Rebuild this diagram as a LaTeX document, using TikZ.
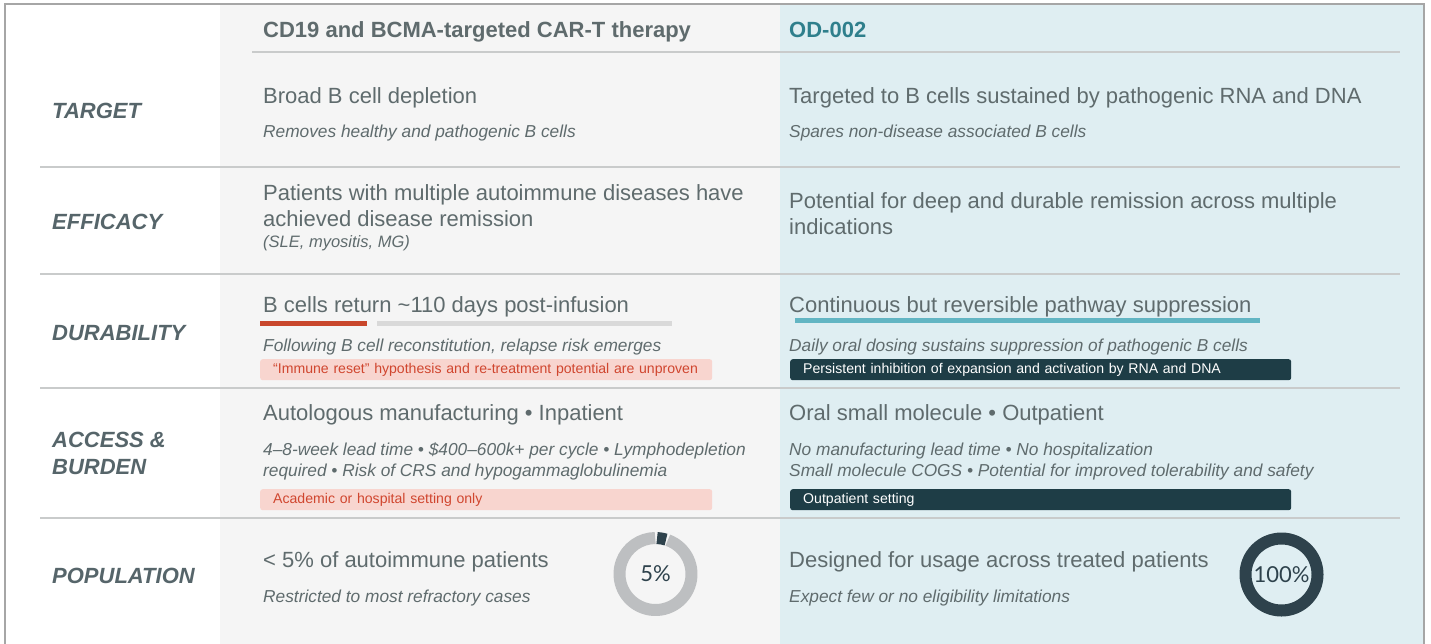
\documentclass[tikz,border=0pt]{standalone}
\usepackage{fontspec}
\setmainfont{Liberation Sans}
\newfontfamily\donutfont{Lato}
\usetikzlibrary{positioning}

\definecolor{txtgray}{HTML}{5F6B6D}
\definecolor{lblgray}{HTML}{56656A}
\definecolor{odteal}{HTML}{2F7F8C}
\definecolor{colgray}{HTML}{F5F5F5}
\definecolor{colblue}{HTML}{DFEEF2}
\definecolor{rulegray}{HTML}{C9CBCB}
\definecolor{framegray}{HTML}{A6A6A6}
\definecolor{barred}{HTML}{C9472C}
\definecolor{bargray}{HTML}{D9D9D9}
\definecolor{barteal}{HTML}{62B5C3}
\definecolor{tagred}{HTML}{F8D5CF}
\definecolor{tagredtxt}{HTML}{D0462F}
\definecolor{tagdark}{HTML}{1E3D46}
\definecolor{ringgray}{HTML}{BDBFC1}
\definecolor{ringdark}{HTML}{2E424C}

\begin{document}
\begin{tikzpicture}[x=1pt, y=-1pt]

    \tikzset{
      maintxt/.style={anchor=base west, inner sep=0pt, text=txtgray,
        font=\fontsize{22}{26}\selectfont},
      subtxt/.style={anchor=base west, inner sep=0pt, text=txtgray,
        font=\fontsize{17.3}{21}\selectfont\itshape},
      rowlbl/.style={anchor=base west, inner sep=0pt, text=lblgray,
        font=\fontsize{22}{26}\selectfont\bfseries\itshape},
      colhead/.style={anchor=base west, inner sep=0pt,
        font=\fontsize{22}{26}\selectfont\bfseries},
      redtag/.style={anchor=north west, fill=tagred, text=tagredtxt,
        rounded corners=2.5pt, inner xsep=13pt, inner ysep=0pt,
        text width=426, minimum height=21, align=left,
        font=\fontsize{14.1}{16}\selectfont},
      darktag/.style={redtag, fill=tagdark, text=white, text width=475},
      ring/.style={line width=12},
      donutlbl/.style={inner sep=0pt, text=ringdark,
        font=\donutfont\fontsize{22}{26}\selectfont},
    }
    \useasboundingbox (0,0) rectangle (1431,643);

    % columns and frame
    \fill[colgray] (220,4) rectangle (780,650);
    \fill[colblue] (780,4) rectangle (1424,650);
    \draw[framegray, line width=1.5] (5,650) |- (1424,4) -- (1424,650);

    % rules
    \draw[rulegray, line width=1.5] (252,52) -- (1400,52);
    \foreach \y in {167,274,388,518}
      \draw[rulegray, line width=1.5] (40,\y) -- (1400,\y);

    % headings
    \node[colhead, text=txtgray] (headcar) at (263,37) {CD19 and BCMA-targeted CAR-T therapy};
    \node[colhead, text=odteal] (headod) at (789,37) {OD-002};

    % target
    \node[rowlbl] (lbltarget) at (52,118) {TARGET};
    \node[maintxt] (cartarget) at (263,103) {Broad B cell depletion};
    \node[subtxt] (cartargetsub) at (263,137) {Removes healthy and pathogenic B cells};
    \node[maintxt] (odtarget) at (789,103) {Targeted to B cells sustained by pathogenic RNA and DNA};
    \node[subtxt] (odtargetsub) at (789,137) {Spares non-disease associated B cells};

    % efficacy
    \node[rowlbl] (lblefficacy) at (52,229) {EFFICACY};
    \node[maintxt] (carefficacy) at (263,200) {Patients with multiple autoimmune diseases have};
    \node[maintxt] (carefficacyb) at (263,226) {achieved disease remission};
    \node[subtxt, font=\fontsize{16.5}{19}\selectfont\itshape] (carefficacysub) at (263,247) {(SLE, myositis, MG)};
    \node[maintxt] (odefficacy) at (789,208) {Potential for deep and durable remission across multiple};
    \node[maintxt] (odefficacyb) at (789,234) {indications};

    % durability
    \node[rowlbl] (lbldurab) at (52,340) {DURABILITY};
    \node[maintxt] (cardurab) at (263,312) {B cells return \textasciitilde110 days post-infusion};
    \draw[barred, line width=5] (260,323.5) -- (367,323.5);
    \draw[bargray, line width=5] (377,323.5) -- (672,323.5);
    \node[subtxt] (cardurabsub) at (263,351) {Following B cell reconstitution, relapse risk emerges};
    \node[redtag] (cardurabtag) at (260,359) {“Immune reset” hypothesis and re-treatment potential are unproven};
    \node[maintxt] (oddurab) at (789,312) {Continuous but reversible pathway suppression};
    \draw[barteal, line width=5] (795,320.5) -- (1260,320.5);
    \node[subtxt] (oddurabsub) at (789,351) {Daily oral dosing sustains suppression of pathogenic B cells};
    \node[darktag] (oddurabtag) at (790,359) {Persistent inhibition of expansion and activation by RNA and DNA};

    % access and burden
    \node[rowlbl] (lblaccess) at (52,447) {ACCESS \&};
    \node[rowlbl] (lblburden) at (52,474) {BURDEN};
    \node[maintxt] (caraccess) at (263,420) {Autologous manufacturing • Inpatient};
    \node[subtxt] (caraccesssub) at (263,455) {4–8-week lead time • \$400–600k+ per cycle • Lymphodepletion};
    \node[subtxt] (caraccesssubb) at (263,476) {required • Risk of CRS and hypogammaglobulinemia};
    \node[redtag] (caraccesstag) at (260,489) {Academic or hospital setting only};
    \node[maintxt] (odaccess) at (789,420) {Oral small molecule • Outpatient};
    \node[subtxt] (odaccesssub) at (789,455) {No manufacturing lead time • No hospitalization};
    \node[subtxt] (odaccesssubb) at (789,476) {Small molecule COGS • Potential for improved tolerability and safety};
    \node[darktag] (odaccesstag) at (790,489) {Outpatient setting};

    % population
    \node[rowlbl] (lblpop) at (52,583) {POPULATION};
    \node[maintxt] (carpop) at (263,567) {< 5\% of autoimmune patients};
    \node[subtxt] (carpopsub) at (263,602) {Restricted to most refractory cases};
    \node[maintxt] (odpop) at (789,567) {Designed for usage across treated patients};
    \node[subtxt] (odpopsub) at (789,602) {Expect few or no eligibility limitations};

    % donuts
    \node[donutlbl] (pctcar) at (655.5,574) {5\%};
    \draw[ring, ringgray] (pctcar.center) ++(-70:36) arc[start angle=-70, end angle=269.5, radius=36];
    \draw[ring, ringdark] (pctcar.center) ++(-87.5:36) arc[start angle=-87.5, end angle=-73, radius=36];
    \node[donutlbl] (pctod) at (1281.5,574.5) {100\%};
    \draw[ring, ringdark] (pctod.center) circle[radius=36];

\end{tikzpicture}
\end{document}
